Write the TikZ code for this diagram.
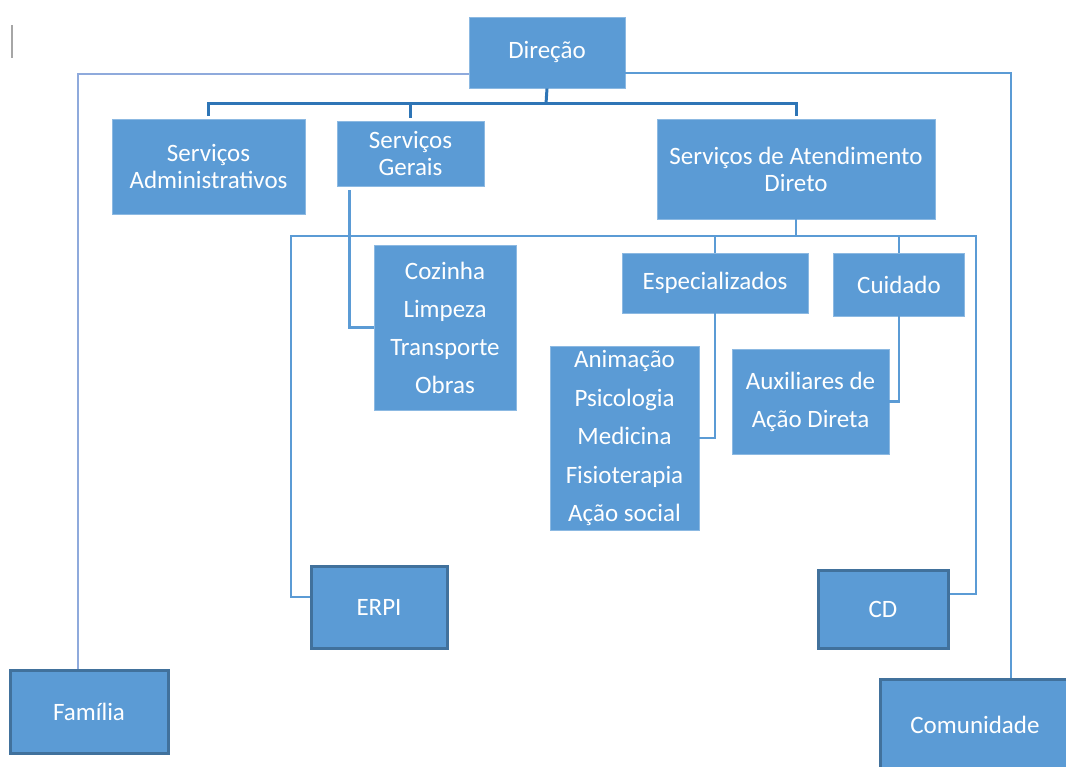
\documentclass[tikz,border=0pt]{standalone}
\usepackage{fontspec}
\setmainfont{Carlito}
\definecolor{boxfill}{HTML}{5B9BD5}
\definecolor{boxdark}{HTML}{41719C}
\definecolor{busblue}{HTML}{2E75B6}
\definecolor{paleblue}{HTML}{8FAADC}
\begin{document}
\begin{tikzpicture}[x=1pt,y=-1pt,
    unit/.style={draw=boxfill!70!white,line width=0.8pt,fill=boxfill,text=white,inner sep=0pt,align=center,font=\fontsize{25}{27}\selectfont},
    list/.style={unit,font=\fontsize{25}{38}\selectfont},
    outer/.style={unit,draw=boxdark,line width=3pt},
    link/.style={draw=boxfill,line width=2.6pt},
    bus/.style={draw=busblue,line width=3pt}]
                \useasboundingbox (0,0) rectangle (1066,767);
                \draw[gray!70,line width=1.2pt](12,25) -- (12,58);
                \node[unit,minimum width=156,minimum height=71](dir) at (547,52.5){Direção};
                \node[unit,minimum width=193,minimum height=95](adm) at (208.5,166.5){Serviços\\Administrativos};
                \node[unit,minimum width=147,minimum height=65](ger) at (410.5,153.5){Serviços\\Gerais};
                \node[unit,minimum width=278,minimum height=100](sad) at (796,169){Serviços de Atendimento\\Direto};
                \node[list,minimum width=142,minimum height=165](coz) at (445,327.5){Cozinha\\Limpeza\\Transporte\\Obras};
                \node[unit,minimum width=186,minimum height=60](esp) at (715,283){Especializados};
                \node[unit,minimum width=131,minimum height=63](cui) at (899,284.5){Cuidado};
                \node[list,minimum width=149,minimum height=184,font=\fontsize{25}{38.5}\selectfont](ani) at (624.5,438){Animação\\Psicologia\\Medicina\\Fisioterapia\\Ação social};
                \node[list,minimum width=157,minimum height=105](aux) at (810.5,401.5){Auxiliares de\\Ação Direta};
                \node[outer,minimum width=136,minimum height=82](erpi) at (379,607){ERPI};
                \node[outer,minimum width=130,minimum height=78](cd) at (883,609){CD};
                \node[outer,minimum width=158,minimum height=83](fam) at (89,711.5){Família};
                \node[outer,minimum width=190,minimum height=91](com) at (975,724.5){Comunidade};
                \coordinate(top) at (546,104);
                \coordinate(busl) at (291,236);
                \coordinate(busr) at (976,236);
                \draw[link,draw=paleblue](dir.west |- 0,74) -| ([xshift=-11pt]fam.north);
                \draw[link](dir.east |- 0,73) -| ([xshift=36pt]com.north);
                \draw[bus](dir.south) -- (top);
                \draw[bus]([yshift=3pt]adm.north) |- (top) -| ([yshift=3pt]sad.north);
                \draw[bus]([yshift=3pt]ger.north) -- (ger.north |- top);
                \draw[link](sad.south) -- (sad.south |- busl);
                \draw[link]([yshift=10pt]erpi.west) -| (busl) -- (busr) |- ([yshift=15pt]cd.east);
                \draw[link](esp.north) -- (esp.north |- busl);
                \draw[link](cui.north) -- (cui.north |- busl);
                \draw[link]([xshift=-61pt,yshift=-4pt]ger.south) |- (coz.west);
                \draw[link](esp.south) |- (ani.east);
                \draw[link](cui.south) |- (aux.east);
            \end{tikzpicture}
\end{document}
